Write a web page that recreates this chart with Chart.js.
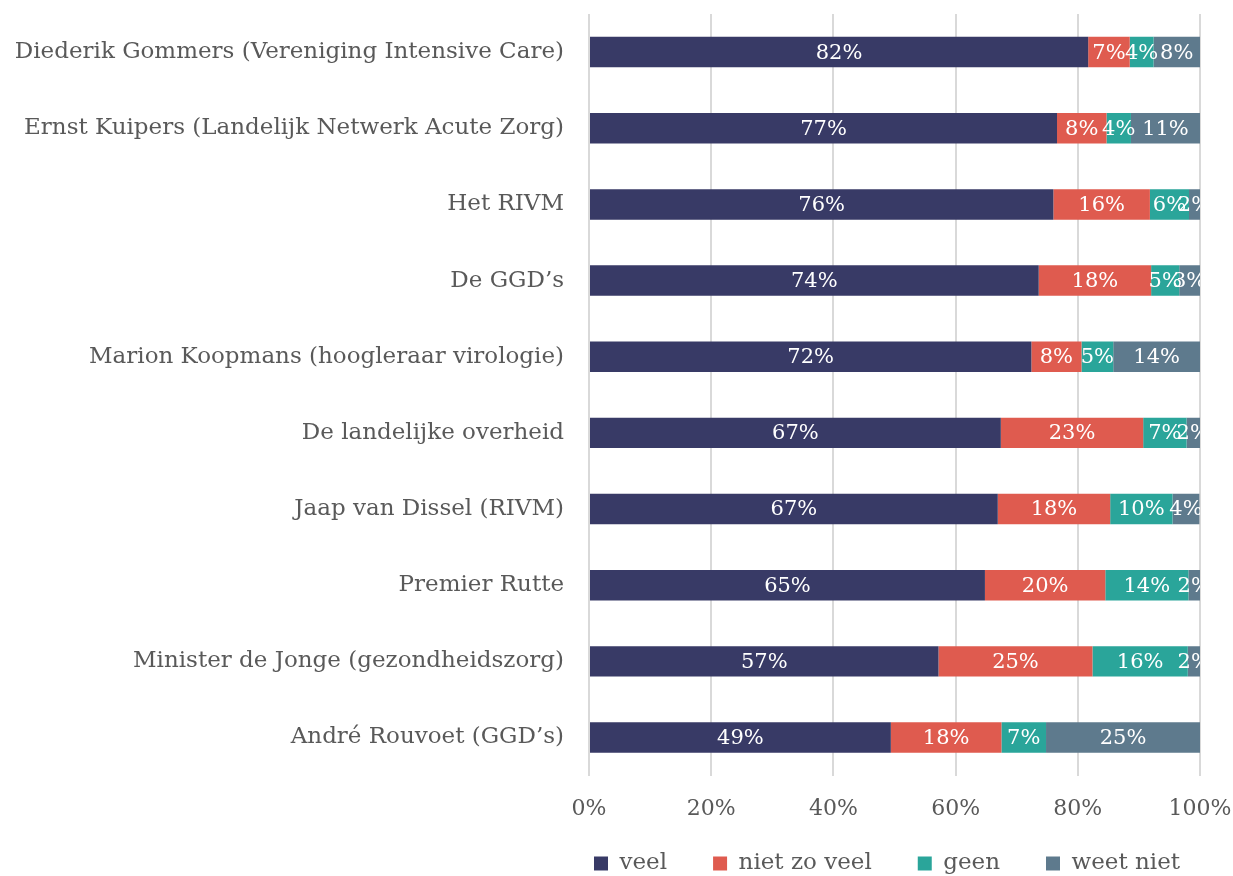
<!DOCTYPE html>
<html>
<head>
<meta charset="utf-8">
<script src="https://cdn.jsdelivr.net/npm/chart.js@4/dist/chart.umd.min.js"></script>
<style>
  html, body { margin: 0; padding: 0; background: #ffffff; }
  #wrap { width: 1233px; height: 876px; position: relative; }
</style>
</head>
<body>
<div id="wrap"><canvas id="chart"></canvas></div>
<script>
// Categories (top to bottom)
const names = [
    'Diederik Gommers (Vereniging Intensive Care)',
    'Ernst Kuipers (Landelijk Netwerk Acute Zorg)',
    'Het RIVM',
    'De GGD\u2019s',
    'Marion Koopmans (hoogleraar virologie)',
    'De landelijke overheid',
    'Jaap van Dissel (RIVM)',
    'Premier Rutte',
    'Minister de Jonge (gezondheidszorg)',
    'Andr\u00e9 Rouvoet (GGD\u2019s)'
];

// Series values (percent)
const veel       = [81.7, 76.6, 76.0, 73.6, 72.4, 67.4, 66.9, 64.8, 57.2, 49.4];
const nietZoVeel = [ 6.8,  8.1, 15.8, 18.4,  8.2, 23.3, 18.4, 19.7, 25.2, 18.1];
const geen       = [ 3.9,  4.0,  6.4,  4.6,  5.2,  7.1, 10.2, 13.6, 15.6,  7.3];
const weetNiet   = [ 7.6, 11.3,  1.8,  3.4, 14.2,  2.2,  4.4,  1.9,  2.1, 25.2];

const seriesNames = ['veel', 'niet zo veel', 'geen', 'weet niet'];
const seriesColors = ['#383a66', '#df5b4f', '#2aa59a', '#5e7a8d'];
const xTicks = [0, 20, 40, 60, 80, 100];

const fontFamily = '"DejaVu Serif", serif';

// Draw value labels in the middle of every segment
const segmentLabels = {
    id: 'segmentLabels',
    afterDatasetsDraw(chart) {
        const ctx = chart.ctx;
        const area = chart.chartArea;
        ctx.save();
        ctx.beginPath();
        ctx.rect(area.left, area.top, area.right - area.left, area.bottom - area.top);
        ctx.clip();
        ctx.fillStyle = '#ffffff';
        ctx.font = '21px ' + fontFamily;
        ctx.textAlign = 'center';
        ctx.textBaseline = 'middle';
        chart.data.datasets.forEach(function(ds, i) {
            const meta = chart.getDatasetMeta(i);
            meta.data.forEach(function(bar, j) {
                const v = ds.data[j];
                const cx = (bar.base + bar.x) / 2;
                ctx.fillText(Math.round(v) + '%', cx, bar.y + 1);
            });
        });
        ctx.restore();
    }
};

// Legend: fixed height, centred under the plot area
const legendPlacement = {
    id: 'legendPlacement',
    beforeLayout(chart) {
        const lg = chart.legend;
        if (lg && !lg._patched) {
            const origFit = lg.fit.bind(lg);
            lg.fit = function() {
                origFit();
                this.height = 34;
            };
            lg._patched = true;
        }
    },
    afterLayout(chart) {
        const lg = chart.legend;
        const centre = 887;
        lg.left = centre - 450;
        lg.right = centre + 450;
        lg.width = 900;
        lg.top = 865 - 46 - 13;
    }
};

const datasets = [veel, nietZoVeel, geen, weetNiet].map(function(vals, i) {
    return {
        label: seriesNames[i],
        data: vals,
        backgroundColor: seriesColors[i],
        borderWidth: 0,
        barPercentage: 0.4,
        categoryPercentage: 1.0
    };
});

new Chart(document.getElementById('chart'), {
    type: 'bar',
    data: { labels: names, datasets: datasets },
    options: {
        indexAxis: 'y',
        responsive: true,
        maintainAspectRatio: false,
        animation: false,
        layout: { padding: { top: 14, right: 0, bottom: 0, left: 12 } },
        plugins: {
            tooltip: { enabled: false },
            legend: {
                position: 'bottom',
                labels: {
                    color: '#595959',
                    font: { family: fontFamily, size: 23 },
                    boxWidth: 14,
                    boxHeight: 14,
                    padding: 46
                }
            }
        },
        scales: {
            x: {
                stacked: true,
                min: 0,
                max: 100,
                afterBuildTicks(axis) {
                    axis.ticks = xTicks.map(function(v) { return { value: v }; });
                },
                afterFit(axis) {
                    axis.paddingLeft = 0;
                    axis.paddingRight = 33;
                },
                grid: { color: '#d9d9d9', lineWidth: 2, drawTicks: false },
                border: { display: false },
                ticks: {
                    color: '#595959',
                    font: { family: fontFamily, size: 22 },
                    padding: 20,
                    callback: function(v) { return v + '%'; }
                }
            },
            y: {
                stacked: true,
                afterFit(axis) {
                    axis.width = 577;
                    axis.paddingTop = 0;
                    axis.paddingBottom = 0;
                },
                grid: { display: false, drawTicks: false },
                border: { display: false },
                ticks: {
                    color: '#595959',
                    font: { family: fontFamily, size: 23 },
                    padding: 25
                }
            }
        }
    },
    plugins: [segmentLabels, legendPlacement]
});
</script>
</body>
</html>
